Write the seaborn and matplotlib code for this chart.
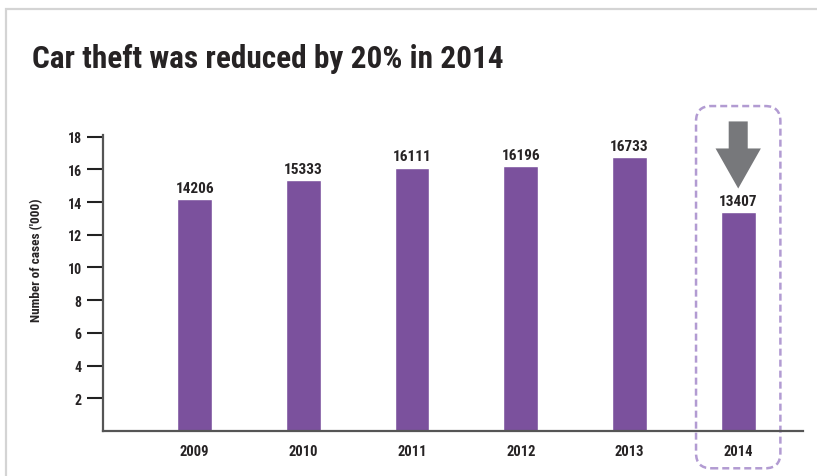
import numpy as np
import pandas as pd
import matplotlib
matplotlib.use("Agg")
import matplotlib.pyplot as plt
import seaborn as sns
from matplotlib import font_manager
from matplotlib.patches import FancyBboxPatch, FancyArrow, Rectangle

# Car theft cases per year
years = ["2009", "2010", "2011", "2012", "2013", "2014"]
cases = [14206, 15333, 16111, 16196, 16733, 13407]
y_ticks = [2, 4, 6, 8, 10, 12, 14, 16, 18]
highlight_year = "2014"

title = "Car theft was reduced by 20% in 2014"
y_label = "Number of cases ('000)"

BAR = "#7b519d"
INK = "#262324"
SPINE = "#555555"
ARROW = "#77787b"
BOX = "#b29bd2"
FRAME = "#d4d4d4"

sns.set_theme(style="white")

# prefer a narrow sans face for the compact headline look
available = {f.name for f in font_manager.fontManager.ttflist}
narrow = next((n for n in ["Liberation Sans Narrow", "Roboto Condensed",
                           "Open Sans Condensed"] if n in available), None)
if narrow:
    plt.rcParams["font.family"] = [narrow, "DejaVu Sans"]
    plt.rcParams["font.stretch"] = "normal"
else:
    plt.rcParams["font.family"] = ["DejaVu Sans"]
    plt.rcParams["font.stretch"] = "condensed"
plt.rcParams["font.weight"] = "bold"

W, H = 817, 477
fig = plt.figure(figsize=(W / 100, H / 100), dpi=100)
fig.patch.set_facecolor("white")

# light frame around the panel
fig.add_artist(Rectangle((5.5 / W, -0.1), 1.2, (H - 10) / H + 0.1,
                         transform=fig.transFigure, fill=False,
                         ec=FRAME, lw=1.6, clip_on=False))

ax = fig.add_axes([102.7 / W, 45 / H, 700.3 / W, 296 / H])

df = pd.DataFrame({"year": years, "cases": np.array(cases) / 1000})
sns.barplot(data=df, x="year", y="cases", color=BAR, saturation=1,
            width=0.32, ax=ax, errorbar=None)

ax.set_xlim(-0.846, 5.596)
ax.set_ylim(0, 18.1)

ax.bar_label(ax.containers[0], labels=[str(c) for c in cases],
             padding=3, fontsize=11, color=INK, fontweight="bold")

ax.set_yticks(y_ticks)
ax.set_yticklabels([str(t) for t in y_ticks])
ax.tick_params(axis="y", left=True, direction="out", length=11.5,
               width=1.5, color="#222222", pad=3.5, labelsize=10,
               labelcolor=INK)
ax.tick_params(axis="x", bottom=False, length=0, pad=9.5,
               labelsize=10.5, labelcolor=INK)
ax.set_xlabel("")
ax.set_ylabel("")

for side in ("top", "right"):
    ax.spines[side].set_visible(False)
for side in ("left", "bottom"):
    ax.spines[side].set_color(SPINE)
    ax.spines[side].set_linewidth(1.6)

fig.text(32 / W, 1 - 68 / H, title, fontsize=22.5, ha="left",
         va="baseline", color=INK, fontweight="bold")
fig.text(37 / W, 1 - 260 / H, y_label, rotation=90, fontsize=9.5,
         ha="center", va="center", color=INK, fontweight="bold")

# highlight for the latest year: down arrow and dashed rounded frame
hx = years.index(highlight_year)
hval = cases[hx] / 1000
arrow_top = 18.93
arrow_tip = hval + 1.42
ax.add_patch(FancyArrow(hx, arrow_top, 0, arrow_tip - arrow_top,
                        width=0.175, head_width=0.417, head_length=2.45,
                        length_includes_head=True, color=ARROW, lw=0,
                        clip_on=False))

xr = ax.get_xlim()[1] - ax.get_xlim()[0]
yr = ax.get_ylim()[1] - ax.get_ylim()[0]
aspect = (ax.bbox.width / xr) / (ax.bbox.height / yr)
ax.add_patch(FancyBboxPatch((hx - 0.388, -2.28), 0.776, 22.15,
                            boxstyle="round,pad=0,rounding_size=0.14",
                            mutation_aspect=aspect, fill=False, ec=BOX,
                            lw=1.8, ls=(0, (2.8, 1.6)), clip_on=False))

fig.savefig("out.png", dpi=100, facecolor="white")
